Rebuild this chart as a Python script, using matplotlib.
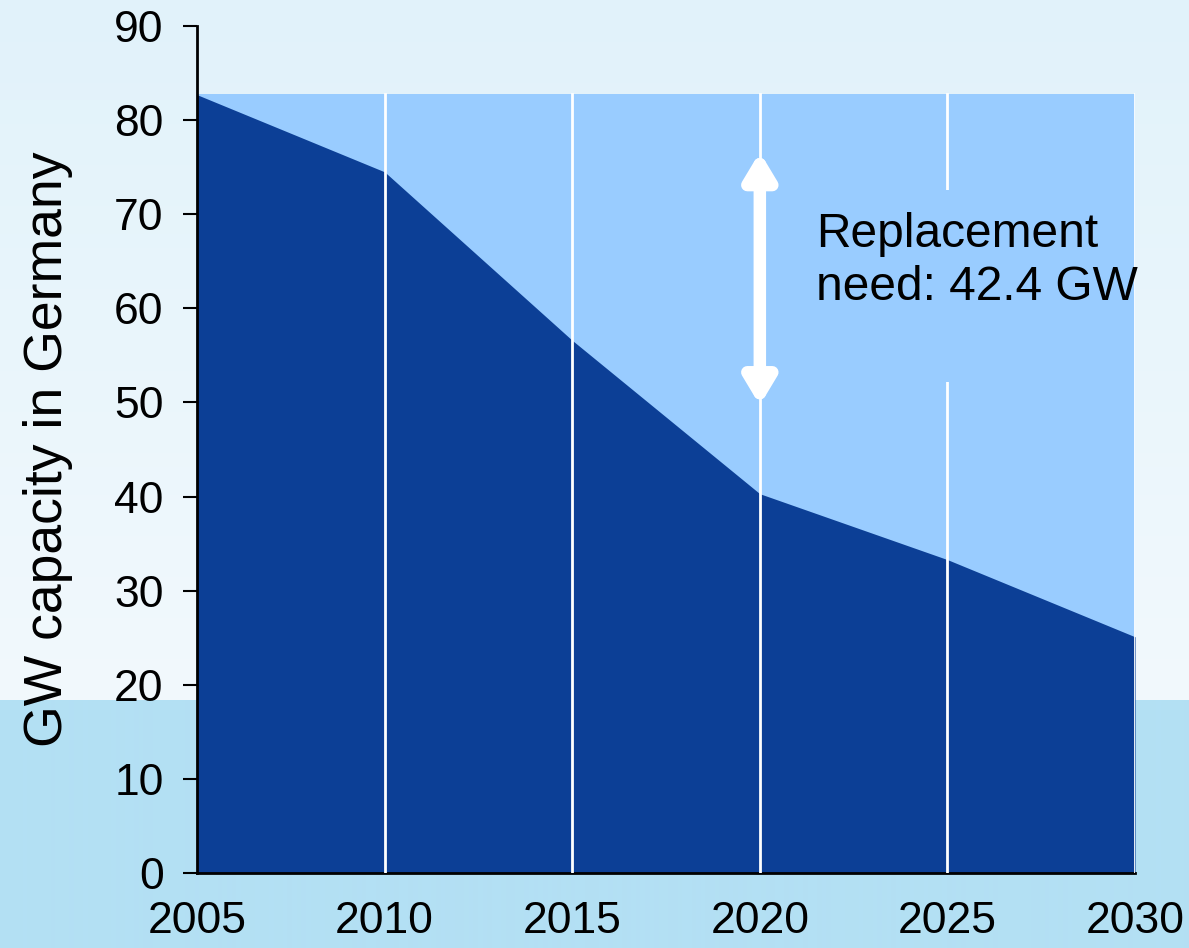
import numpy as np
from matplotlib import pyplot as plt
from matplotlib.patches import Rectangle

plt.rcParams['font.family'] = ['Liberation Sans', 'DejaVu Sans']

years = [2005, 2010, 2015, 2020, 2025, 2030]
remaining_gw = [82.7, 74.5, 56.6, 40.3, 33.3, 25.1]
total_gw = 82.8
arrow_top, arrow_bottom = 76.6, 49.7
note = "Replacement\nneed: 42.4 GW"

dark = '#0c3f96'
light = '#99ccff'

fig = plt.figure(figsize=(11.89, 9.48), dpi=100)

# background: soft gradient on top, flat band at the bottom
bg = fig.add_axes([0, 0, 1, 1], zorder=-10)
h = 948
rows = np.zeros((h, 1, 3))
top_c = np.array([0xe1, 0xf2, 0xfa]) / 255
mid_c = np.array([0xf2, 0xf9, 0xfd]) / 255
band_c = np.array([0xb3, 0xe0, 0xf4]) / 255
split = 700
for i in range(h):
    if i < split:
        t = i / split
        rows[i, 0] = top_c * (1 - t) + mid_c * t
    else:
        rows[i, 0] = band_c
bg.imshow(rows, aspect='auto', extent=[0, 1, 0, 1])
bg.axis('off')

ax = fig.add_axes([0.1657, 0.0791, 0.7889, 0.8935])
ax.patch.set_alpha(0)

ax.fill_between(years, 0, total_gw, color=light, lw=0, zorder=1)
ax.fill_between(years, 0, remaining_gw, color=dark, lw=0, zorder=2)

for yr in years[1:]:
    ax.axvline(yr, ymin=0, ymax=total_gw / 90, color='white', lw=2, zorder=3)

# label box hides the grid line behind the note
ax.add_patch(Rectangle((2024.5, 52.2), 1.0, 20.4, facecolor=light,
                       edgecolor='none', zorder=3.5))
ax.text(2021.5, 70.2, note, fontsize=34.5, va='top', ha='left', linespacing=1.22,
        zorder=4)

ax.annotate('', xy=(2020, arrow_bottom), xytext=(2020, arrow_top),
            arrowprops=dict(arrowstyle='<|-|>,head_length=0.75,head_width=0.45',
                            mutation_scale=20, color='white', lw=9,
                            shrinkA=0, shrinkB=0), zorder=5)

ax.set_xlim(2005, 2030)
ax.set_ylim(0, 90)
ax.set_xticks(years)
ax.set_yticks(range(0, 91, 10))
ax.tick_params(axis='y', labelsize=32, length=10, width=1.5, pad=14)
ax.tick_params(axis='x', labelsize=32, length=0, pad=20)
ax.set_ylabel('GW capacity in Germany', fontsize=38.5, labelpad=30)

ax.spines['top'].set_visible(False)
ax.spines['right'].set_visible(False)
ax.spines['left'].set_linewidth(2)
ax.spines['bottom'].set_linewidth(2)

fig.savefig('out.png', dpi=100)
